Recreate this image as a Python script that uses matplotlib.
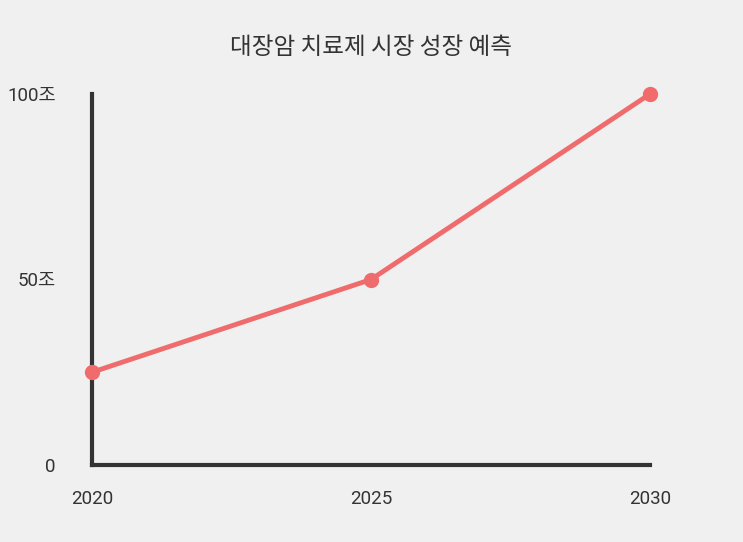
import matplotlib
matplotlib.use('Agg')
import matplotlib.pyplot as plt

plt.rcParams['font.family'] = ['Roboto', 'Noto Sans CJK KR', 'DejaVu Sans']

# 데이터
years = [2020, 2025, 2030]
market = [25, 50, 100]
ytick_vals = [0, 50, 100]
ytick_labels = ['0', '50조', '100조']
title = '대장암 치료제 시장 성장 예측'

bg = '#f0f0f0'
fig = plt.figure(figsize=(7.43, 5.42), dpi=100, facecolor=bg)
ax = fig.add_axes([92/743, 1-465/542, (650-92)/743, (465-94)/542], facecolor=bg)

ax.plot(years, market, color='#f06b6b', linewidth=3.5, marker='o', markersize=10,
        clip_on=False, zorder=3)

ax.set_xlim(2020, 2030)
ax.set_ylim(0, 100)
ax.set_xticks(years)
ax.set_xticklabels([str(y) for y in years])
ax.set_yticks(ytick_vals)
ax.set_yticklabels(ytick_labels)
ax.tick_params(axis='both', length=0, labelsize=13.5, colors='#333333')
ax.tick_params(axis='y', pad=26)
ax.tick_params(axis='x', pad=18)

for s in ['top', 'right']:
    ax.spines[s].set_visible(False)
for s in ['left', 'bottom']:
    ax.spines[s].set_linewidth(3)
    ax.spines[s].set_color('#333333')

fig.text(371/743, 1-47/542, title, ha='center', va='center', fontsize=17, color='#333333',
         family=['Noto Sans CJK KR', 'DejaVu Sans'])

fig.savefig('out.png', dpi=100, facecolor=bg)
